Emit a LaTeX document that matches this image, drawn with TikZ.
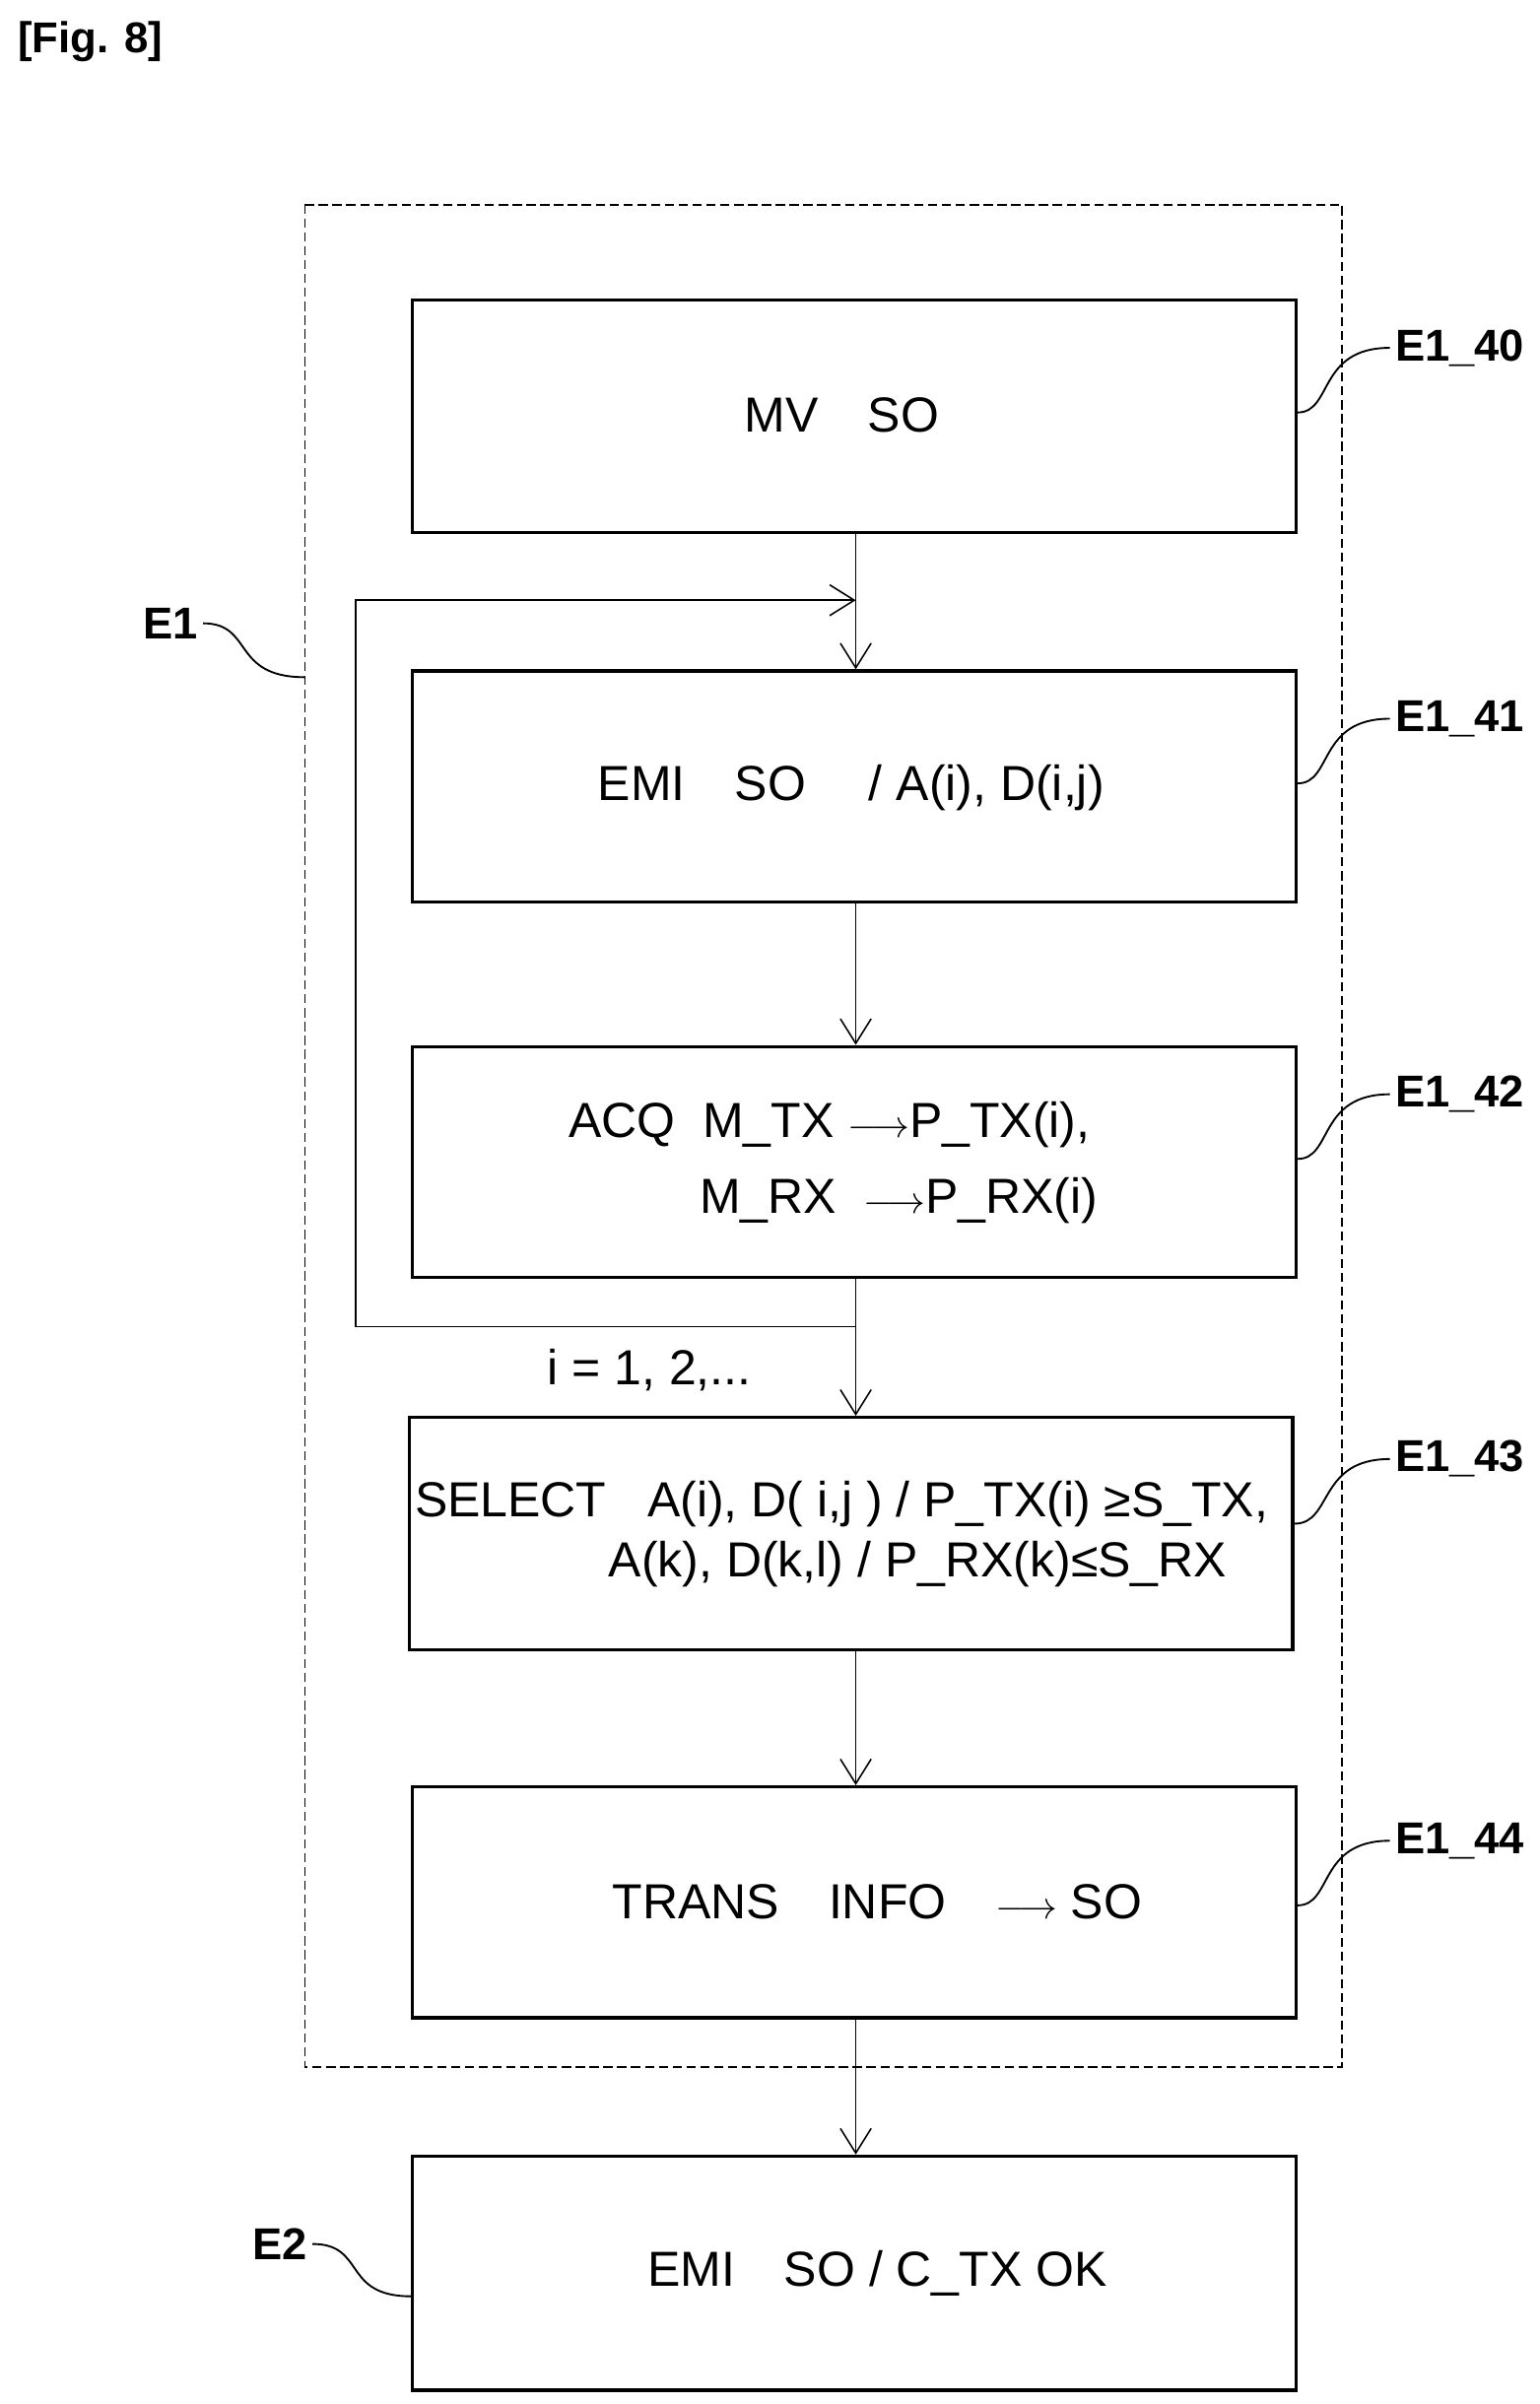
\documentclass[tikz,border=0pt]{standalone}
\usepackage{fontspec}
\setmainfont{Liberation Sans}
\usetikzlibrary{arrows.meta}
\begin{document}
\begin{tikzpicture}[x=1pt,y=-1pt,
  box/.style={draw,line width=2.2pt},
  arr/.style={draw,line width=1pt,-{Straight Barb[length=16pt,width=20pt,line width=1pt]}},
  lab/.style={font=\fontsize{29}{29}\selectfont\bfseries,anchor=west},
  txt/.style={font=\fontsize{32}{38}\selectfont},
  lead/.style={draw,line width=1.2pt}]
\useasboundingbox (0,0) rectangle (1000,1562);
\node[font=\fontsize{28}{28}\selectfont\bfseries,anchor=west] (fig) at (8,27) {[Fig. 8]};
\draw[dash pattern=on 6pt off 3pt,line width=1pt] (198,133) rectangle (872,1343);
\node[box,minimum width=574pt,minimum height=151pt] (b0) at (555,270.5) {};
\node[box,minimum width=574pt,minimum height=150pt] (b1) at (555,511) {};
\node[box,minimum width=574pt,minimum height=150pt] (b2) at (555,755) {};
\node[box,minimum width=574pt,minimum height=151pt] (b3) at (553,996.5) {};
\node[box,minimum width=574pt,minimum height=150pt] (b4) at (555,1236) {};
\node[box,minimum width=574pt,minimum height=152pt] (b5) at (555,1477) {};
\node[txt] (t0) at (547,270) {MV\quad SO};
\node[txt] (t1) at (553,512) {EMI\quad SO\quad\ / A(i), D(i,j)};
\node[txt,anchor=west] (t2a) at (366,731) {ACQ\ \ M\_TX $\longrightarrow$P\_TX(i),};
\node[txt,anchor=west] (t2b) at (451,780) {M\_RX\ \ $\longrightarrow$P\_RX(i)};
\node[txt,anchor=west] (t3a) at (266,977) {SELECT\ \ \ A(i), D( i,j ) / P\_TX(i) ≥S\_TX,};
\node[txt,anchor=west] (t3b) at (392,1016) {A(k), D(k,l) / P\_RX(k)≤S\_RX};
\node[txt] (t4) at (570,1236) {TRANS\quad INFO\quad $\longrightarrow$ SO};
\node[txt] (t5) at (570,1477) {EMI\quad SO / C\_TX OK};
\node[txt,anchor=west] (iv) at (352,890) {i = 1, 2,...};
\coordinate (j0) at (556,390);
\coordinate (j1) at (556,862);
\coordinate (c1) at (231,862);
\coordinate (c2) at (231,390);
\draw[line width=1pt] (b0.south -| j0) -- (j0);
\draw[arr] (j0) -- (b1.north -| j0);
\draw[arr] (b1.south -| j0) -- (b2.north -| j0);
\draw[arr] (b2.south -| j0) -- (b3.north -| j0);
\draw[arr] (b3.south -| j0) -- (b4.north -| j0);
\draw[arr] (b4.south -| j0) -- (b5.north -| j0);
\draw[arr] (j1) -- (c1) -- (c2) -- (j0);
% labels
\foreach \n/\y/\b in {40/226/b0,41/467/b1,42/711/b2,43/948/b3,44/1196/b4}{
  \node[lab] (l\n) at (903,\y) {E1\_\n};
  \draw[lead] (\b.east |- 0,\y+42) .. controls (866,\y+42) and (856,\y) .. (l\n.west);
}
\node[lab,anchor=east] (le1) at (132,405) {E1};
\draw[lead] (le1.east) .. controls (165,405) and (150,440) .. (198,440);
\node[lab,anchor=east] (le2) at (203,1458) {E2};
\draw[lead] (le2.east) .. controls (238,1458) and (222,1492) .. (b5.west |- 0,1492);
\end{tikzpicture}
\end{document}
